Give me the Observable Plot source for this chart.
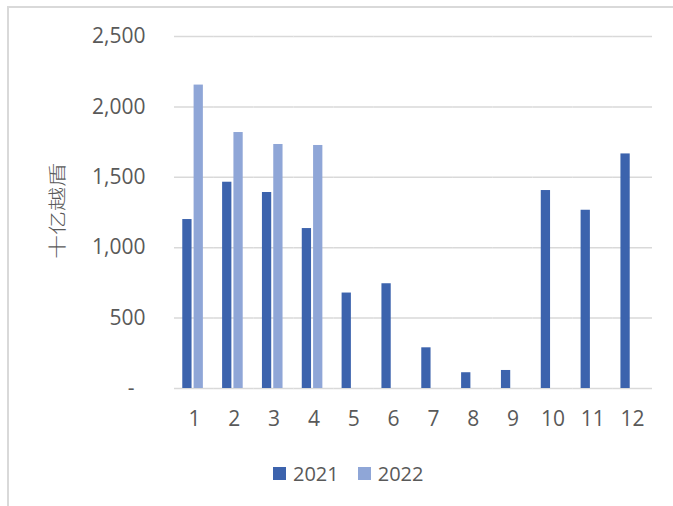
<!DOCTYPE html>
<html>
<head>
<meta charset="utf-8">
<script src="https://cdn.jsdelivr.net/npm/d3@7"></script>
<script src="https://cdn.jsdelivr.net/npm/@observablehq/plot@0.6"></script>
<style>
  body { margin: 0; background: #fff; overflow: hidden; }
  #frame { position: absolute; left: 7px; top: 6px; width: 700px; height: 560px; border-top: 2px solid #d9d9d9; border-left: 2px solid #d9d9d9; box-sizing: border-box; }
  #chart { position: absolute; left: 0; top: 0; }
  #ylabel { position: absolute; left: 56px; top: 211px; transform: translate(-50%, -50%) rotate(-90deg) scale(1, 0.78); white-space: nowrap; font-family: "Noto Sans CJK SC", sans-serif; font-weight: 300; font-size: 24px; line-height: 1; color: #595959; }
  #legend { position: absolute; left: 273px; top: 460px; display: flex; align-items: center; font-family: "Open Sans", sans-serif; font-size: 20px; color: #595959; }
  #legend .item { display: flex; align-items: center; margin-right: 19px; }
  #legend .sw { width: 13px; height: 13px; margin-right: 7px; }
</style>
</head>
<body>
<div id="frame"></div>
<div id="chart"></div>
<div id="ylabel"></div>
<div id="legend"></div>
<script>
const months = ["1","2","3","4","5","6","7","8","9","10","11","12"];
const years = ["2021","2022"];
const values2021 = [1200, 1465, 1392, 1136, 678, 744, 289, 112, 128, 1406, 1266, 1666];
const values2022 = [2155, 1818, 1733, 1726, null, null, null, null, null, null, null, null];
const yTicks = [0, 500, 1000, 1500, 2000, 2500];
const colors = ["#3C63AD", "#8FA6D7"];
const yLabel = "十亿越盾";

const data = [];
months.forEach((m, i) => {
  if (values2021[i] != null) data.push({month: m, year: "2021", value: values2021[i]});
  if (values2022[i] != null) data.push({month: m, year: "2022", value: values2022[i]});
});

const fmt = d3.format(",");
const chart = Plot.plot({
  width: 673,
  height: 440,
  marginTop: 36,
  marginBottom: 52,
  marginLeft: 174,
  marginRight: 21,
  style: {fontFamily: "'Open Sans', sans-serif", fontSize: "21px", color: "#595959", background: "transparent", overflow: "visible"},
  fx: {domain: months, padding: 0, round: false, label: null, axis: "bottom", tickSize: 0, tickPadding: 23},
  x: {domain: years, axis: null, round: false, paddingInner: 0.18, paddingOuter: 0.85, align: 0.43},
  y: {domain: [0, 2500], ticks: yTicks, tickFormat: d => d === 0 ? "-\u00a0\u00a0" : fmt(d), tickSize: 0, tickPadding: 29, label: null},
  color: {domain: years, range: colors},
  marks: [
    Plot.ruleY(yTicks, {stroke: "#d9d9d9", strokeWidth: 1.5}),
    Plot.barY(data, {fx: "month", x: "year", y: "value", fill: "year"})
  ]
});
document.getElementById("chart").appendChild(chart);
document.getElementById("ylabel").textContent = yLabel;

const legend = document.getElementById("legend");
years.forEach((y, i) => {
  const item = document.createElement("div");
  item.className = "item";
  const sw = document.createElement("div");
  sw.className = "sw";
  sw.style.background = colors[i];
  const t = document.createElement("span");
  t.textContent = y;
  item.appendChild(sw);
  item.appendChild(t);
  legend.appendChild(item);
});
</script>
</body>
</html>
